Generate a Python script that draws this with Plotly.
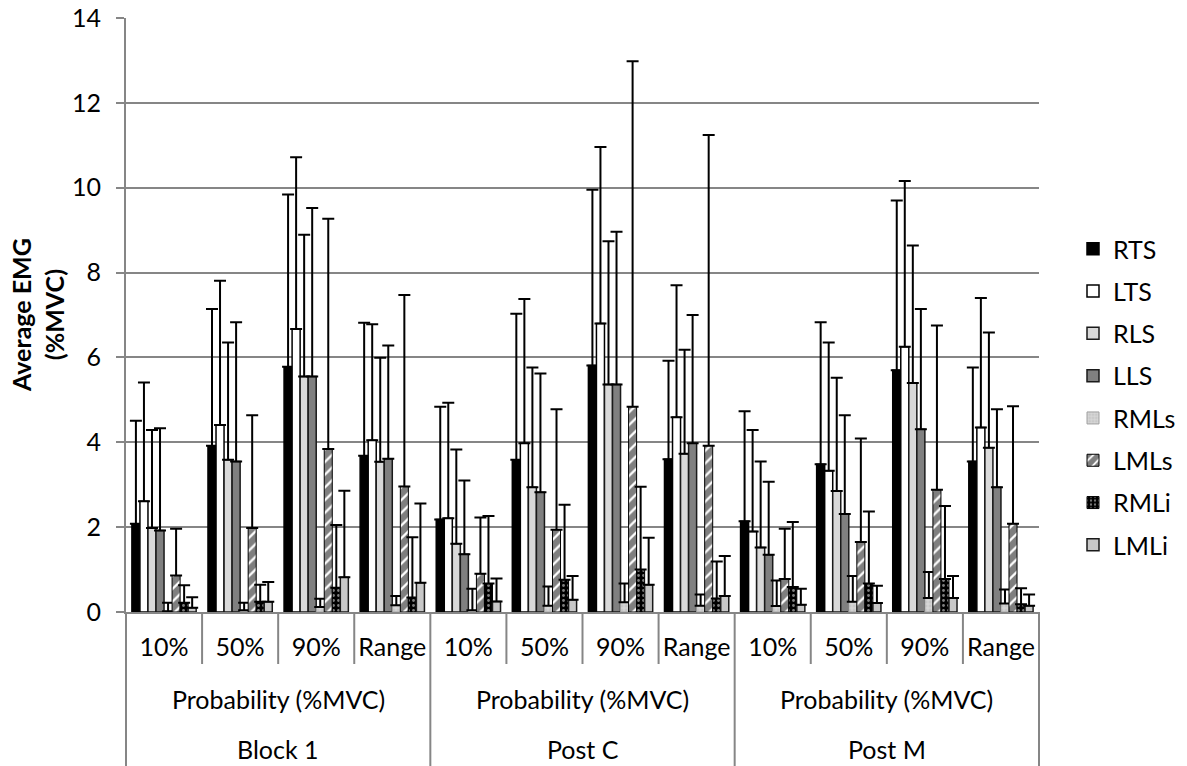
import plotly.graph_objects as go

# ---- data ----
blocks = ["Block 1", "Post C", "Post M"]
probability_label = "Probability (%MVC)"
conditions = ["10%", "50%", "90%", "Range"]

series_names = ["RTS", "LTS", "RLS", "LLS", "RMLs", "LMLs", "RMLi", "LMLi"]

RTS = [2.08, 3.92, 5.78, 3.68, 2.18, 3.59, 5.81, 3.60, 2.14, 3.48, 5.70, 3.55]
LTS = [2.61, 4.41, 6.67, 4.05, 2.21, 3.98, 6.80, 4.59, 1.90, 3.33, 6.25, 4.35]
RLS = [1.98, 3.59, 5.55, 3.54, 1.61, 2.94, 5.36, 3.73, 1.52, 2.85, 5.40, 3.87]
LLS = [1.92, 3.55, 5.55, 3.61, 1.36, 2.82, 5.36, 3.98, 1.35, 2.31, 4.31, 2.94]
RMLs = [0.02, 0.04, 0.12, 0.16, 0.04, 0.15, 0.23, 0.15, 0.14, 0.24, 0.33, 0.20]
LMLs = [0.86, 1.98, 3.84, 2.96, 0.90, 1.94, 4.84, 3.92, 0.78, 1.65, 2.88, 2.08]
RMLi = [0.22, 0.24, 0.57, 0.34, 0.67, 0.76, 1.00, 0.32, 0.59, 0.67, 0.78, 0.18]
LMLi = [0.10, 0.24, 0.82, 0.69, 0.25, 0.29, 0.64, 0.38, 0.17, 0.21, 0.33, 0.15]

RTS_SD = [2.43, 3.22, 4.06, 3.14, 2.66, 3.44, 4.14, 2.32, 2.59, 3.35, 4.00, 2.21]
LTS_SD = [2.80, 3.40, 4.05, 2.73, 2.72, 3.40, 4.16, 3.11, 2.39, 3.02, 3.91, 3.05]
RLS_SD = [2.31, 2.76, 3.34, 2.45, 2.22, 2.82, 3.38, 2.45, 2.03, 2.67, 3.24, 2.72]
LLS_SD = [2.41, 3.28, 3.97, 2.67, 1.74, 2.80, 3.60, 3.02, 1.72, 2.33, 2.83, 1.84]
RMLs_SD = [0.20, 0.18, 0.19, 0.22, 0.51, 0.45, 0.44, 0.26, 0.60, 0.61, 0.61, 0.33]
LMLs_SD = [1.10, 2.66, 5.43, 4.51, 1.33, 2.84, 8.14, 7.32, 1.18, 2.44, 3.87, 2.77]
RMLi_SD = [0.41, 0.40, 1.48, 1.42, 1.59, 1.77, 1.95, 0.87, 1.53, 1.70, 1.72, 0.38]
LMLi_SD = [0.25, 0.47, 2.04, 1.87, 0.54, 0.56, 1.11, 0.94, 0.38, 0.41, 0.52, 0.26]

y_title = "Average EMG<br>(%MVC)"
y_ticks = [0, 2, 4, 6, 8, 10, 12, 14]

# ---- styling ----
FONT = "Lato"
FS = 25
GRID = "#868686"

styles = {
    "RTS":  dict(color="#000000", line=dict(color="#000000", width=1.5)),
    "LTS":  dict(color="#ffffff", line=dict(color="#000000", width=1.5)),
    "RLS":  dict(color="#d9d9d9", line=dict(color="#1a1a1a", width=1.5)),
    "LLS":  dict(color="#808080", line=dict(color="#1a1a1a", width=1.5)),
    "RMLs": dict(color="#d4d4d4", line=dict(color="#a0a0a0", width=1),
                 pattern=dict(shape="+", fgcolor="#f4f4f4", bgcolor="#c8c8c8",
                              size=4, solidity=0.35)),
    "LMLs": dict(color="#ffffff", line=dict(color="#000000", width=1),
                 pattern=dict(shape="/", fgcolor="#000000", bgcolor="#ffffff",
                              size=9, solidity=0.75)),
    "RMLi": dict(color="#000000", line=dict(color="#000000", width=1),
                 pattern=dict(shape=".", fgcolor="#ffffff", bgcolor="#000000",
                              size=5, solidity=0.25)),
    "LMLi": dict(color="#c8c8c8", line=dict(color="#1a1a1a", width=1.5)),
}

values = {"RTS": RTS, "LTS": LTS, "RLS": RLS, "LLS": LLS,
          "RMLs": RMLs, "LMLs": LMLs, "RMLi": RMLi, "LMLi": LMLi}
sds = {"RTS": RTS_SD, "LTS": LTS_SD, "RLS": RLS_SD, "LLS": LLS_SD,
       "RMLs": RMLs_SD, "LMLs": LMLs_SD, "RMLi": RMLi_SD, "LMLi": LMLi_SD}

n_groups = len(blocks) * len(conditions)
xpos = list(range(n_groups))
ticktext = conditions * len(blocks)

fig = go.Figure()
for name in series_names:
    fig.add_trace(go.Bar(
        x=xpos, y=values[name], name=name,
        marker=styles[name],
        legendgroup=name,
        error_y=dict(type="data", array=sds[name], arrayminus=[0] * n_groups,
                     symmetric=False, color="#000000", thickness=2, width=6),
    ))

# plot geometry (pixels)
W, H = 1187, 766
L, R, T, B = 126, 148, 18, 154
ph = H - T - B
pw = W - L - R


def ypaper(py):
    return (H - B - py) / ph


def xpaper(px):
    return (px - L) / pw


shapes = []
line_style = dict(color=GRID, width=2)
for k in range(n_groups + 1):
    xp = k / n_groups
    if k % len(conditions) == 0:
        y_end = ypaper(766)
    else:
        y_end = ypaper(664)
    shapes.append(dict(type="line", xref="paper", yref="paper",
                       x0=xp, x1=xp, y0=0, y1=y_end, line=line_style))

annotations = []
for b, blk in enumerate(blocks):
    xc = (b * len(conditions) + len(conditions) / 2) / n_groups
    annotations.append(dict(text=probability_label, xref="paper", yref="paper",
                            x=xc, y=ypaper(699), showarrow=False,
                            xanchor="center", yanchor="middle",
                            font=dict(family=FONT, size=FS, color="#000000")))
    annotations.append(dict(text=blk, xref="paper", yref="paper",
                            x=xc, y=ypaper(749), showarrow=False,
                            xanchor="center", yanchor="middle",
                            font=dict(family=FONT, size=FS, color="#000000")))

# y-axis title (two bold lines, rotated)
annotations.append(dict(text=y_title, xref="paper", yref="paper",
                        x=xpaper(37), y=0.5, showarrow=False, textangle=-90,
                        xanchor="center", yanchor="middle",
                        font=dict(family=FONT, size=FS, color="#000000",
                                  weight="bold")))

fig.update_layout(
    width=W, height=H,
    margin=dict(l=L, r=R, t=T, b=B, autoexpand=False),
    paper_bgcolor="white", plot_bgcolor="white",
    font=dict(family=FONT, size=FS, color="#000000"),
    barmode="group", bargap=0.155, bargroupgap=0,
    showlegend=True,
    legend=dict(x=xpaper(1073), xanchor="left", y=ypaper(397), yanchor="middle",
                font=dict(family=FONT, size=FS), traceorder="grouped",
                tracegroupgap=6.8, bgcolor="rgba(0,0,0,0)"),
    shapes=shapes,
    annotations=annotations,
    xaxis=dict(range=[-0.5, n_groups - 0.5], tickvals=xpos, ticktext=ticktext,
               ticks="", showgrid=False, zeroline=False,
               showline=True, linecolor=GRID, linewidth=2,
               ticklabelstandoff=12, tickfont=dict(family=FONT, size=FS),
               fixedrange=True),
    yaxis=dict(range=[0, 14], tickvals=y_ticks, showgrid=True, gridcolor=GRID,
               gridwidth=2, zeroline=False, showline=True, linecolor=GRID,
               linewidth=2, ticks="outside", ticklen=8, tickcolor=GRID,
               tickwidth=2, ticklabelstandoff=10,
               tickfont=dict(family=FONT, size=FS)),
)

fig.write_html(
    "out.html",
    config={"displayModeBar": False},
    post_script="document.body.style.margin='0';document.body.style.overflow='hidden';",
)
